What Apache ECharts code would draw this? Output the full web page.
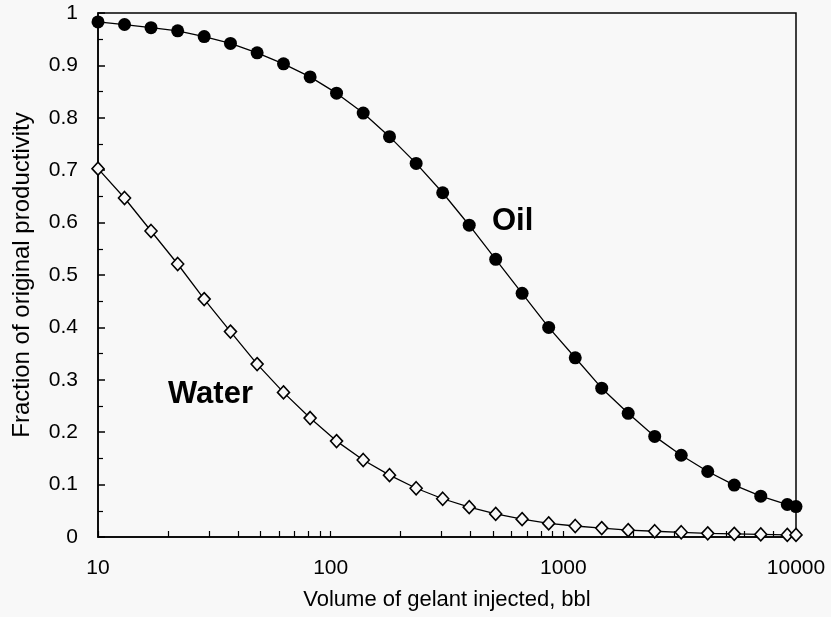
<!DOCTYPE html>
<html>
<head>
<meta charset="utf-8">
<script src="https://cdn.jsdelivr.net/npm/echarts@6/dist/echarts.min.js"></script>
<style>
  html, body { margin: 0; padding: 0; background: #f8f8f8; }
  #chart { width: 831px; height: 617px; }
</style>
</head>
<body>
<div id="chart"></div>
<script>
// Gelant volume injected (bbl), sampled on a geometric grid plus the end point
const volumes = [10, 13, 16.9, 22, 28.6, 37.1, 48.3, 62.7, 81.6, 106, 138, 179, 233, 303,
  394, 512, 665, 865, 1125, 1462, 1900, 2470, 3211, 4175, 5428, 7056, 9173, 10000];

// Fraction of original productivity retained
const oilFraction = [0.983, 0.978, 0.972, 0.966, 0.955, 0.942, 0.924, 0.903, 0.878, 0.847,
  0.809, 0.764, 0.713, 0.657, 0.595, 0.530, 0.465, 0.400, 0.342, 0.284, 0.236, 0.192,
  0.156, 0.125, 0.099, 0.078, 0.062, 0.058];
const waterFraction = [0.703, 0.647, 0.584, 0.521, 0.454, 0.392, 0.330, 0.276, 0.227, 0.183,
  0.147, 0.118, 0.093, 0.073, 0.057, 0.044, 0.034, 0.026, 0.021, 0.017, 0.013, 0.011,
  0.009, 0.007, 0.006, 0.005, 0.004, 0.004];

// Tick positions on the logarithmic volume axis (majors and in-between minors)
const xTickValues = [10, 20, 30, 40, 50, 60, 70, 80, 90, 100, 200, 300, 400, 500, 600, 700,
  800, 900, 1000, 2000, 3000, 4000, 5000, 6000, 7000, 8000, 9000, 10000];

const FONT = '"Liberation Sans", Arial, sans-serif';

const pairs = (xs, ys) => xs.map((x, i) => [x, ys[i]]);

const chart = echarts.init(document.getElementById('chart'), null, { renderer: 'canvas' });

chart.setOption({
  backgroundColor: '#f8f8f8',
  animation: false,
  grid: {
    left: 98, right: 35, top: 13, bottom: 80,
    show: true, borderColor: '#000', borderWidth: 1.5, backgroundColor: 'transparent'
  },
  xAxis: {
    type: 'log', logBase: 10, min: 10, max: 10000,
    name: 'Volume of gelant injected, bbl',
    nameLocation: 'middle', nameGap: 52,
    nameTextStyle: { color: '#000', fontFamily: FONT, fontSize: 22 },
    axisLine: { show: true, lineStyle: { color: '#000', width: 1.5 } },
    axisTick: { show: true, inside: true, length: 6, customValues: xTickValues,
      lineStyle: { color: '#000', width: 1.2 } },
    axisLabel: { color: '#000', fontFamily: FONT, fontSize: 21, margin: 21,
      formatter: (v) => String(Math.round(v)) },
    splitLine: { show: false }
  },
  yAxis: {
    type: 'value', min: 0, max: 1, interval: 0.1,
    name: 'Fraction of original productivity',
    nameLocation: 'middle', nameGap: 64,
    nameTextStyle: { color: '#000', fontFamily: FONT, fontSize: 24 },
    axisLine: { show: true, lineStyle: { color: '#000', width: 1.5 } },
    axisTick: { show: true, inside: true, length: 7, lineStyle: { color: '#000', width: 1.5 } },
    minorTick: { show: true, splitNumber: 2, length: 5, lineStyle: { color: '#000', width: 1.2 } },
    axisLabel: { color: '#000', fontFamily: FONT, fontSize: 21, margin: 20 },
    splitLine: { show: false }
  },
  series: [
    {
      name: 'Water',
      type: 'line',
      data: pairs(volumes, waterFraction),
      symbol: 'diamond',
      symbolSize: [12, 13],
      itemStyle: { color: '#f8f8f8', borderColor: '#000', borderWidth: 1.6 },
      lineStyle: { color: '#000', width: 1.3 },
      z: 2
    },
    {
      name: 'Oil',
      type: 'line',
      data: pairs(volumes, oilFraction),
      symbol: 'circle',
      symbolSize: 13,
      itemStyle: { color: '#000', borderWidth: 0 },
      lineStyle: { color: '#000', width: 1.3 },
      z: 3
    }
  ],
  graphic: [
    { type: 'text', left: 492, top: 206,
      style: { text: 'Oil', fill: '#000', font: 'bold 31px ' + FONT } },
    { type: 'text', left: 168, top: 379,
      style: { text: 'Water', fill: '#000', font: 'bold 31px ' + FONT } }
  ]
});
</script>
</body>
</html>
